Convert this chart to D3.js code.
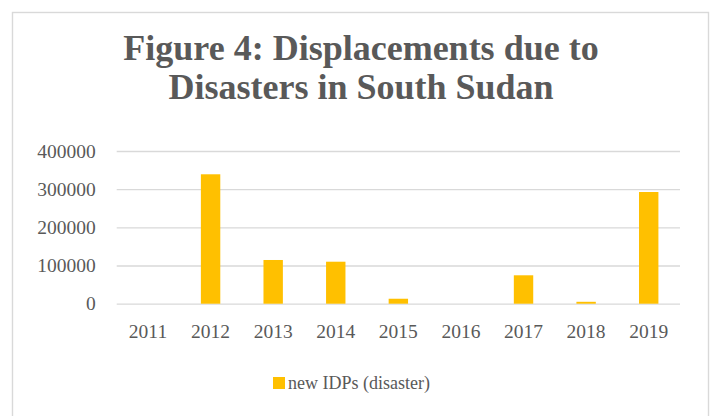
<!DOCTYPE html>
<html>
<head>
<meta charset="utf-8">
<script src="https://cdn.jsdelivr.net/npm/d3@7/dist/d3.min.js"></script>
<style>
  html, body { margin: 0; padding: 0; background: #fff; }
  svg { display: block; }
  text { font-family: "Liberation Serif", "DejaVu Serif", serif; fill: #595959; }
</style>
</head>
<body>
<svg id="chart" width="714" height="416"></svg>
<script>
// Newly displaced people by disasters, per year
const years = ["2011", "2012", "2013", "2014", "2015", "2016", "2017", "2018", "2019"];
const newIDPs = [0, 339000, 114500, 110000, 13000, 0, 74400, 5000, 292600];
const yTicks = [0, 100000, 200000, 300000, 400000];
const seriesName = "new IDPs (disaster)";
const titleLines = ["Figure 4: Displacements due to", "Disasters in South Sudan"];

const svg = d3.select("#chart");
const W = 714, H = 416;

// chart frame
svg.append("rect")
  .attr("x", 12.5).attr("y", 12.5)
  .attr("width", 696).attr("height", H)
  .attr("fill", "#fff")
  .attr("stroke", "#d9d9d9").attr("stroke-width", 1.4);

// title
const title = svg.append("text")
  .attr("text-anchor", "middle")
  .attr("font-weight", "bold")
  .attr("font-size", 36);
title.selectAll("tspan").data(titleLines).join("tspan")
  .attr("x", 361)
  .attr("y", (d, i) => 60 + i * 39)
  .text(d => d);

const plot = { left: 116.7, right: 680, top: 151, bottom: 303.7 };

const x = d3.scaleBand()
  .domain(years)
  .range([plot.left, plot.right])
  .paddingInner(0.69)
  .paddingOuter(0.345);

const y = d3.scaleLinear()
  .domain([0, 400000])
  .range([plot.bottom, plot.top]);

// horizontal gridlines + value labels
const yAxis = d3.axisLeft(y)
  .tickValues(yTicks)
  .tickSize(-(plot.right - plot.left))
  .tickPadding(21)
  .tickFormat(d3.format("d"));

const gy = svg.append("g")
  .attr("transform", `translate(${plot.left},0)`)
  .call(yAxis);
gy.select(".domain").remove();
gy.selectAll(".tick line").attr("stroke", "#d9d9d9").attr("stroke-width", 1.3);
gy.selectAll(".tick text")
  .attr("font-size", 19.5)
  .attr("fill", "#595959")
  .attr("font-family", "Liberation Serif, serif");

// bars
svg.append("g").selectAll("rect")
  .data(years.map((yr, i) => ({ yr, v: newIDPs[i] })))
  .join("rect")
  .attr("x", d => x(d.yr))
  .attr("width", x.bandwidth())
  .attr("y", d => y(d.v))
  .attr("height", d => y(0) - y(d.v))
  .attr("fill", "#ffc000");

// category axis
const xAxis = d3.axisBottom(x).tickSize(0).tickPadding(20);
const gx = svg.append("g")
  .attr("transform", `translate(0,${plot.bottom})`)
  .call(xAxis);
gx.select(".domain").remove();
gx.selectAll(".tick text")
  .attr("font-size", 19.5)
  .attr("fill", "#595959")
  .attr("font-family", "Liberation Serif, serif");

// legend
const lg = svg.append("g").attr("transform", "translate(273,377)");
lg.append("rect").attr("width", 12).attr("height", 12).attr("fill", "#ffc000");
lg.append("text")
  .attr("x", 15).attr("y", 12)
  .attr("font-size", 18)
  .text(seriesName);
</script>
</body>
</html>
